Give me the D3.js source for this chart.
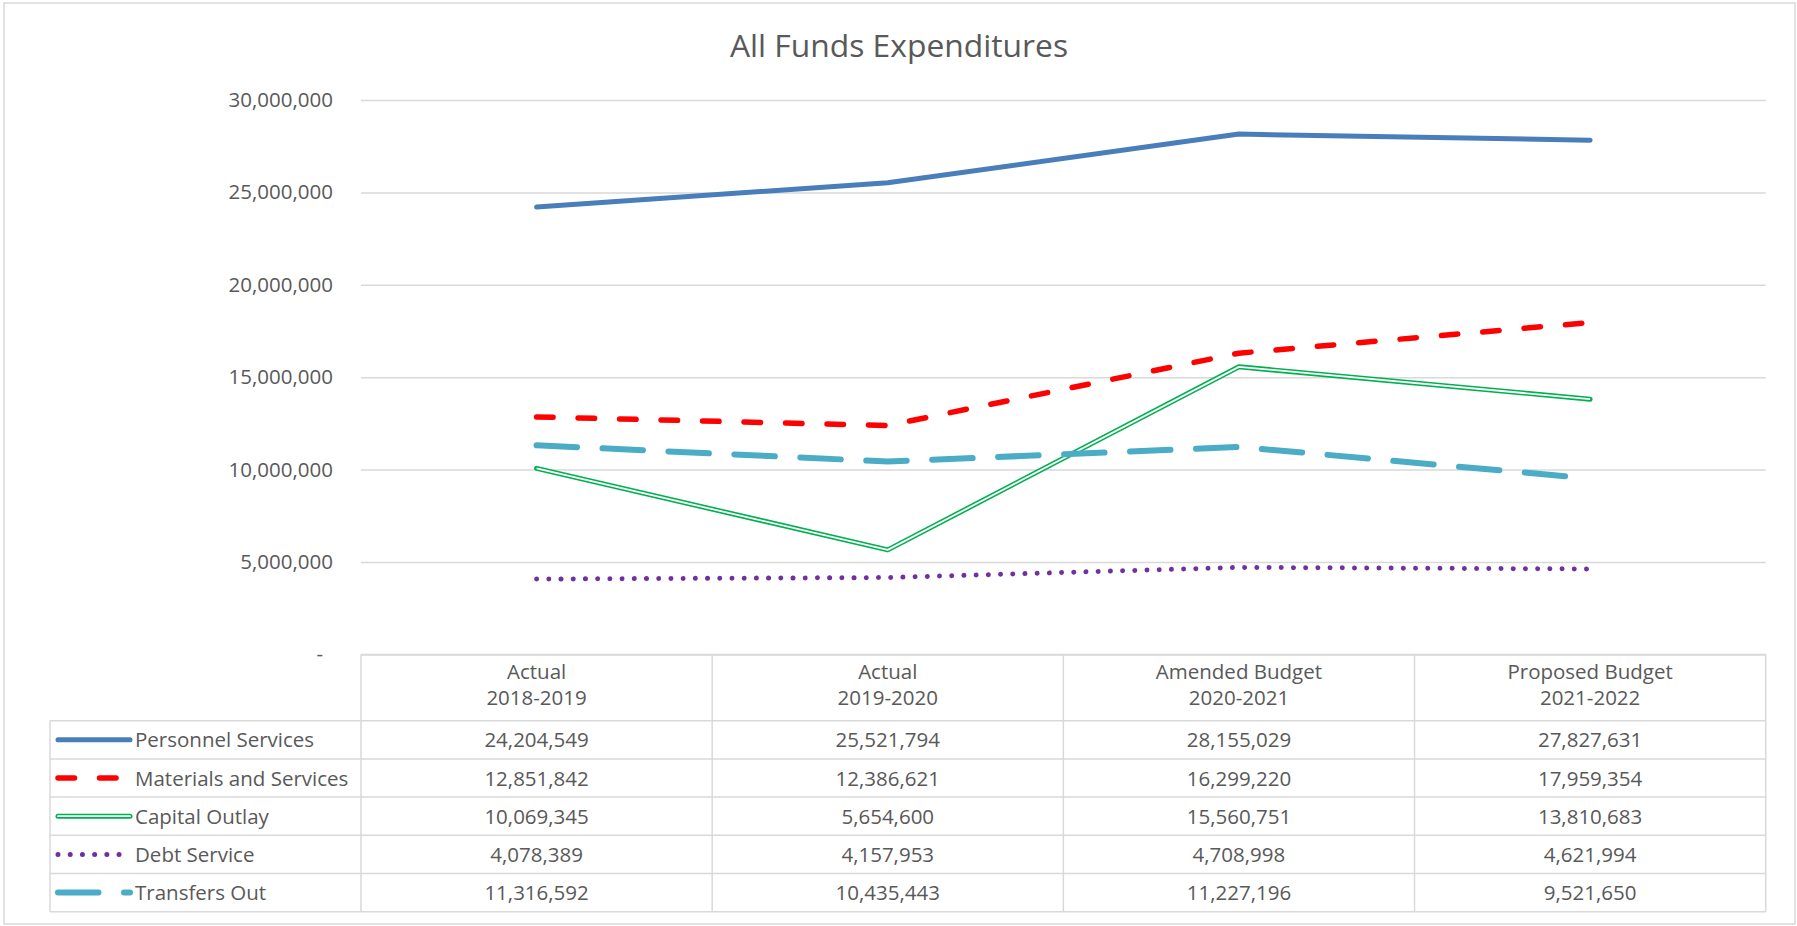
<!DOCTYPE html>
<html>
<head>
<meta charset="utf-8">
<script src="https://cdn.jsdelivr.net/npm/d3@7"></script>
<style>
  body { margin: 0; background: #fff; }
  text { font-family: "Open Sans", sans-serif; fill: #595959; }
</style>
</head>
<body>
<svg id="chart"></svg>
<script>
const categories = ["2018-2019", "2019-2020", "2020-2021", "2021-2022"];
const categoryTitles = ["Actual", "Actual", "Amended Budget", "Proposed Budget"];
const seriesNames = ["Personnel Services", "Materials and Services", "Capital Outlay", "Debt Service", "Transfers Out"];
const personnel = [24204549, 25521794, 28155029, 27827631];
const materials = [12851842, 12386621, 16299220, 17959354];
const capital = [10069345, 5654600, 15560751, 13810683];
const debt = [4078389, 4157953, 4708998, 4621994];
const transfers = [11316592, 10435443, 11227196, 9521650];
const yTicks = [0, 5000000, 10000000, 15000000, 20000000, 25000000, 30000000];

const series = [
  { name: seriesNames[0], values: personnel, color: "#4A7EBB", width: 5, dash: null },
  { name: seriesNames[1], values: materials, color: "#FF0000", width: 5.5, dash: "16.5 25" },
  { name: seriesNames[2], values: capital, color: "#00B050", width: 5, dash: null, double: true },
  { name: seriesNames[3], values: debt, color: "#7030A0", width: 5, dash: "0.01 12.2" },
  { name: seriesNames[4], values: transfers, color: "#4BACC6", width: 6, dash: "40.5 25.5" },
];

const W = 1797;
const H = 926;
const plot = { left: 361, right: 1765.7, top: 100, bottom: 654.4 };
const legendLeft = 50;
const headerBottom = 720.7;
const rowH = 38.2;
const gridColor = "#D9D9D9";

const svg = d3.select("#chart").attr("width", W).attr("height", H);

// outer chart border
svg
  .append("rect")
  .attr("x", 4)
  .attr("y", 3)
  .attr("width", 1791)
  .attr("height", 921)
  .attr("fill", "#fff")
  .attr("stroke", gridColor)
  .attr("stroke-width", 1.5);

svg
  .append("text")
  .attr("x", 899)
  .attr("y", 56.5)
  .attr("text-anchor", "middle")
  .style("font-size", "31.8px")
  .text("All Funds Expenditures");

// scales
const xscale = d3.scaleBand().domain(categories).range([plot.left, plot.right]);
const yscale = d3.scaleLinear().domain([0, 30000000]).range([plot.bottom, plot.top]);
const cx = (i) => xscale(categories[i]) + xscale.bandwidth() / 2;

// y axis with gridlines
const yaxis = d3
  .axisLeft(yscale)
  .tickValues(yTicks)
  .tickSizeInner(-(plot.right - plot.left))
  .tickSizeOuter(0)
  .tickPadding(28)
  .tickFormat((d) => (d === 0 ? "-" : d3.format(",")(d)));

const g_yaxis = svg
  .append("g")
  .attr("transform", `translate(${plot.left},0)`)
  .call(yaxis);
g_yaxis.select(".domain").remove();
g_yaxis.selectAll("line").attr("stroke", gridColor).attr("stroke-width", 1.5);
g_yaxis
  .selectAll("text")
  .style("font-size", "20.5px")
  .attr("fill", "#595959")
  .attr("font-family", null)
  .attr("dx", (d) => (d === 0 ? -10 : 0));

// data table
const nRows = series.length;
const tableBottom = headerBottom + nRows * rowH;
const table = svg.append("g").attr("stroke", gridColor).attr("stroke-width", 1.5);

table
  .append("line")
  .attr("x1", plot.left)
  .attr("x2", plot.right)
  .attr("y1", plot.bottom)
  .attr("y2", plot.bottom);

table
  .selectAll("line.row")
  .data(d3.range(nRows + 1))
  .join("line")
  .attr("class", "row")
  .attr("x1", legendLeft)
  .attr("x2", plot.right)
  .attr("y1", (i) => headerBottom + i * rowH)
  .attr("y2", (i) => headerBottom + i * rowH);

table
  .selectAll("line.col")
  .data(categories.concat(["end"]))
  .join("line")
  .attr("class", "col")
  .attr("x1", (d) => (d === "end" ? plot.right : xscale(d)))
  .attr("x2", (d) => (d === "end" ? plot.right : xscale(d)))
  .attr("y1", plot.bottom)
  .attr("y2", tableBottom);

table
  .append("line")
  .attr("x1", legendLeft)
  .attr("x2", legendLeft)
  .attr("y1", headerBottom)
  .attr("y2", tableBottom);

// header cells
const header = svg
  .selectAll("text.header")
  .data(categories)
  .join("text")
  .attr("class", "header")
  .attr("text-anchor", "middle")
  .style("font-size", "20.5px");
header
  .append("tspan")
  .attr("x", (d, i) => cx(i))
  .attr("y", 679)
  .text((d, i) => categoryTitles[i]);
header
  .append("tspan")
  .attr("x", (d, i) => cx(i))
  .attr("y", 705)
  .text((d) => d);

// value cells
const rows = svg
  .selectAll("g.tablerow")
  .data(series)
  .join("g")
  .attr("class", "tablerow")
  .attr("transform", (d, i) => `translate(0,${headerBottom + (i + 0.5) * rowH})`);

rows
  .selectAll("text.val")
  .data((d) => d.values)
  .join("text")
  .attr("class", "val")
  .attr("x", (d, i) => cx(i))
  .attr("y", 7.5)
  .attr("text-anchor", "middle")
  .style("font-size", "20.5px")
  .text((d) => d3.format(",")(d));

rows
  .append("text")
  .attr("x", 135)
  .attr("y", 7.5)
  .style("font-size", "20.5px")
  .text((d) => d.name);

function drawStroke(sel, d) {
  sel
    .attr("fill", "none")
    .attr("stroke", d.color)
    .attr("stroke-width", d.width)
    .attr("stroke-linecap", "round")
    .attr("stroke-linejoin", "round")
    .attr("stroke-dasharray", d.dash);
}

// legend keys
rows.each(function (d) {
  const row = d3.select(this);
  const key = row.append("line").attr("x1", 58).attr("x2", 130).attr("y1", 0).attr("y2", 0);
  drawStroke(key, d);
  if (d.double) {
    row
      .append("line")
      .attr("x1", 58)
      .attr("x2", 130)
      .attr("stroke", "#fff")
      .attr("stroke-width", 1.8)
      .attr("stroke-linecap", "round");
  }
});

// series lines
const line = d3
  .line()
  .x((d, i) => cx(i))
  .y((d) => yscale(d));

const lines = svg.append("g");
series.forEach((d) => {
  const path = lines.append("path").attr("d", line(d.values));
  drawStroke(path, d);
  if (d.double) {
    lines
      .append("path")
      .attr("d", line(d.values))
      .attr("fill", "none")
      .attr("stroke", "#fff")
      .attr("stroke-width", 1.8)
      .attr("stroke-linejoin", "round");
  }
});
</script>
</body>
</html>
